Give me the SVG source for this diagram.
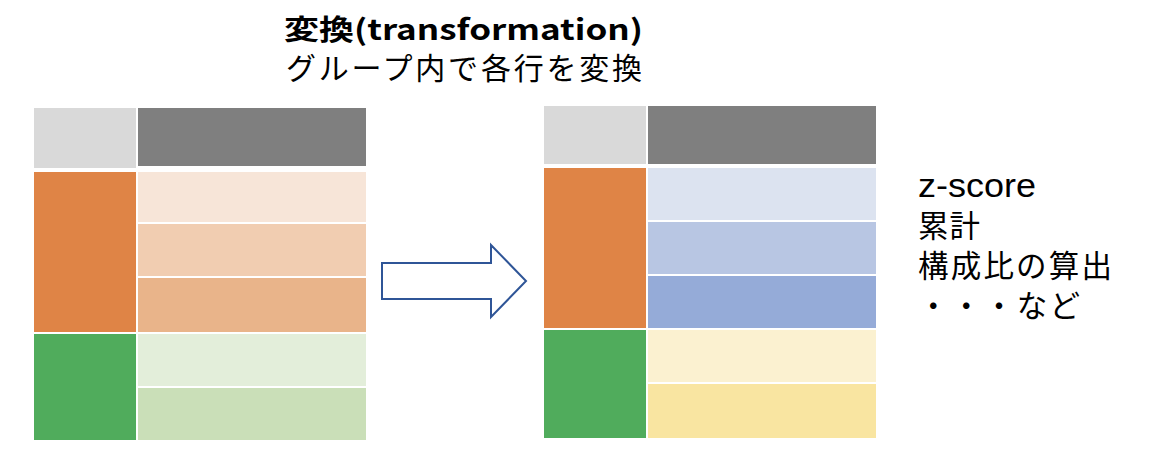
<svg xmlns="http://www.w3.org/2000/svg" width="1156" height="468" viewBox="0 0 1156 468">
<style>
.t{font-family:"Liberation Sans","Noto Sans CJK JP",sans-serif;fill:#000}
.j{font-family:"Noto Sans CJK JP","Liberation Sans",sans-serif;fill:#000}
.lg{fill:#D9D9D9}.dg{fill:#7F7F7F}.or{fill:#DF8446}.gr{fill:#50AC5C}
</style>
<rect width="1156" height="468" fill="#fff"/>
<g id="title">
<text class="j"><tspan x="284" y="40" font-size="28.5" font-weight="bold" textLength="359" lengthAdjust="spacingAndGlyphs">変換(transformation)</tspan><tspan x="286" y="79" font-size="30" textLength="356" lengthAdjust="spacing">グループ内で各行を変換</tspan></text>
</g>
<g id="left-table">
<rect class="lg" x="34" y="108" width="102" height="60"/>
<rect class="dg" x="138" y="108" width="228" height="58"/>
<rect class="or" x="34" y="172" width="102" height="160"/>
<rect x="138" y="172" width="228" height="50" fill="#F7E5D8"/>
<rect x="138" y="224" width="228" height="52" fill="#F1CDB1"/>
<rect x="138" y="278" width="228" height="54" fill="#E9B48A"/>
<rect class="gr" x="34" y="334" width="102" height="106"/>
<rect x="138" y="334" width="228" height="52" fill="#E3EEDA"/>
<rect x="138" y="388" width="228" height="52" fill="#CADFB8"/>
</g>
<g id="connectors">
<polygon points="382,263 491,263 491,245 526,281 491,317 491,299 382,299" fill="#fff" stroke="#2F5597" stroke-width="2"/>
</g>
<g id="right-table">
<rect class="lg" x="544" y="106" width="102" height="58"/>
<rect class="dg" x="648" y="106" width="228" height="58"/>
<rect class="or" x="544" y="168" width="102" height="160"/>
<rect x="648" y="168" width="228" height="52" fill="#DCE3F0"/>
<rect x="648" y="222" width="228" height="52" fill="#B8C6E3"/>
<rect x="648" y="276" width="228" height="52" fill="#95ABD8"/>
<rect class="gr" x="544" y="330" width="102" height="108"/>
<rect x="648" y="330" width="228" height="52" fill="#FBF1D0"/>
<rect x="648" y="384" width="228" height="54" fill="#F9E5A1"/>
</g>
<g id="notes">
<text class="j" font-size="30.5"><tspan class="t" x="918" y="197" font-size="33" textLength="118" lengthAdjust="spacingAndGlyphs">z-score</tspan><tspan x="918" y="237" textLength="62" lengthAdjust="spacing">累計</tspan><tspan x="918" y="277" textLength="194" lengthAdjust="spacing">構成比の算出</tspan><tspan x="918" y="317" textLength="162" lengthAdjust="spacing">・・・など</tspan></text>
</g>
</svg>
